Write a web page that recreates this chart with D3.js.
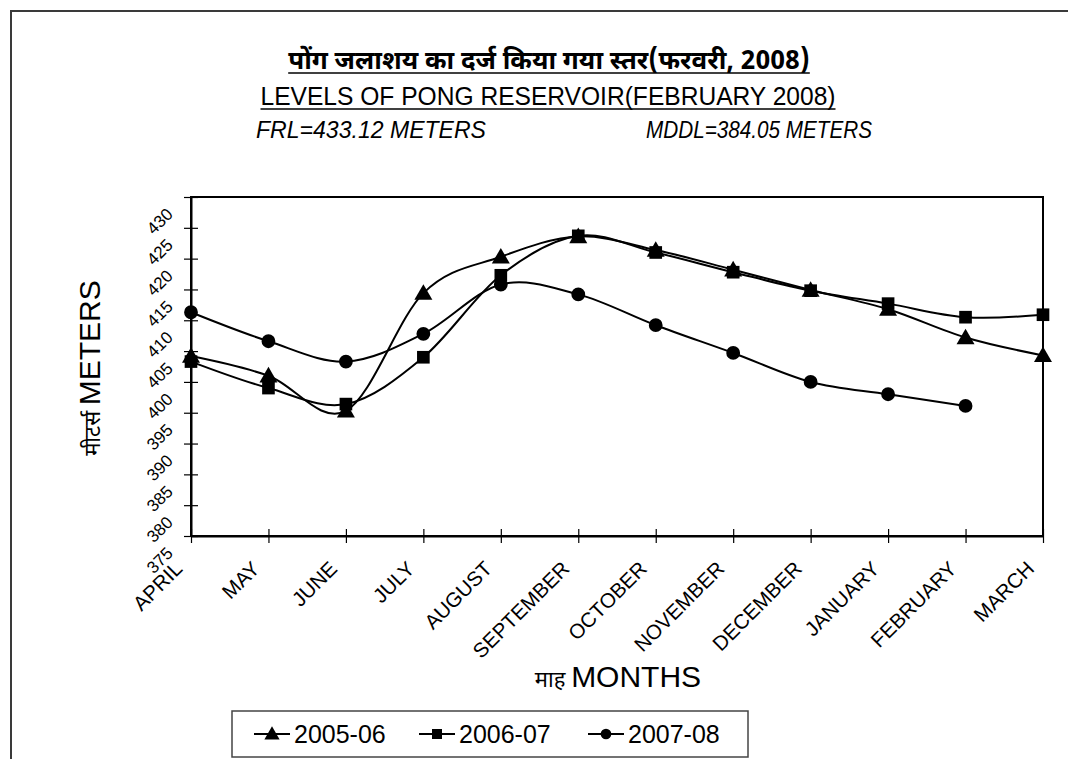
<!DOCTYPE html>
<html>
<head>
<meta charset="utf-8">
<script src="https://cdn.jsdelivr.net/npm/d3@7"></script>
<style>
  html, body { margin: 0; padding: 0; background: #fff; }
  svg { display: block; }
  text { font-family: "Liberation Sans", Arial, sans-serif; fill: #000; }
</style>
</head>
<body>
<svg id="chart" width="1068" height="759"></svg>
<script>
// Reservoir levels (metres) by month, April to March
const months = ["APRIL", "MAY", "JUNE", "JULY", "AUGUST", "SEPTEMBER", "OCTOBER",
                "NOVEMBER", "DECEMBER", "JANUARY", "FEBRUARY", "MARCH"];
const level2005_06 = [404.2, 401.0, 395.3, 414.4, 420.3, 423.6, 421.4, 418.2, 414.9, 411.8, 407.2, 404.3];
const level2006_07 = [403.3, 399.0, 396.4, 404.0, 417.3, 423.7, 421.0, 417.8, 414.8, 412.7, 410.5, 410.9];
const level2007_08 = [411.3, 406.6, 403.3, 407.8, 415.8, 414.2, 409.2, 404.7, 400.0, 398.0, 396.1, null];
const seriesNames = ["2005-06", "2006-07", "2007-08"];
const seriesMarkers = ["triangle", "square", "circle"];
const yTicks = [375, 380, 385, 390, 395, 400, 405, 410, 415, 420, 425, 430];

const titleHindi = "पोंग जलाशय का दर्ज किया गया स्तर(फरवरी, 2008)";
const titleEnglish = "LEVELS OF PONG RESERVOIR(FEBRUARY 2008)";
const frlText = "FRL=433.12 METERS";
const mddlText = "MDDL=384.05 METERS";

const svg = d3.select("#chart");
const plot = { left: 191, right: 1043, top: 197, bottom: 536 };

const x = d3.scalePoint().domain(months).range([plot.left, plot.right]);
const y = d3.scaleLinear().domain([375, 430]).range([plot.bottom, plot.top]);

const hindiFont = '"Noto Sans Devanagari", "Lohit Devanagari", "Noto Sans", sans-serif';
const narrowFont = '"Liberation Sans Narrow", "Arial Narrow", "Liberation Sans", sans-serif';

// Outer frame (left and top edges)
svg.append("path")
  .attr("d", "M11,759 L11,11 L1068,11")
  .attr("fill", "none").attr("stroke", "#3a3a3a").attr("stroke-width", 2);

// Titles
const t1 = svg.append("text")
  .attr("x", 549).attr("y", 69)
  .attr("text-anchor", "middle")
  .style("font-family", hindiFont).style("font-weight", "bold").style("font-size", "26px")
  .text(titleHindi);
const t2 = svg.append("text")
  .attr("x", 548).attr("y", 105)
  .attr("text-anchor", "middle")
  .style("font-family", narrowFont).style("font-size", "25px")
  .attr("textLength", 575).attr("lengthAdjust", "spacingAndGlyphs")
  .text(titleEnglish);
svg.append("text")
  .attr("x", 256).attr("y", 138)
  .style("font-family", narrowFont).style("font-size", "23px").style("font-style", "italic")
  .attr("textLength", 230).attr("lengthAdjust", "spacingAndGlyphs")
  .text(frlText);
svg.append("text")
  .attr("x", 872).attr("y", 138)
  .attr("text-anchor", "end")
  .style("font-family", narrowFont).style("font-size", "23px").style("font-style", "italic")
  .attr("textLength", 226).attr("lengthAdjust", "spacingAndGlyphs")
  .text(mddlText);

// Underlines for the two title lines
[[t1, 73], [t2, 109]].forEach(([t, uy]) => {
  const bb = t.node().getBBox();
  svg.append("line")
    .attr("x1", bb.x).attr("x2", bb.x + bb.width)
    .attr("y1", uy).attr("y2", uy)
    .attr("stroke", "#000").attr("stroke-width", 1.5);
});

// Plot frame
svg.append("rect")
  .attr("x", plot.left).attr("y", plot.top)
  .attr("width", plot.right - plot.left).attr("height", plot.bottom - plot.top)
  .attr("fill", "none").attr("stroke", "#000").attr("stroke-width", 2);

// Y axis
const yAxis = svg.append("g")
  .attr("transform", `translate(${plot.left},0)`)
  .call(d3.axisLeft(y).tickValues(yTicks).tickSize(6).tickSizeOuter(0));
yAxis.select(".domain").attr("stroke", "#000").attr("stroke-width", 2);
yAxis.selectAll(".tick line").attr("x1", -7).attr("x2", 7).attr("stroke", "#000").attr("stroke-width", 1.2);
yAxis.selectAll(".tick text")
  .attr("x", null).attr("dy", null)
  .attr("text-anchor", "middle")
  .attr("dominant-baseline", "central")
  .attr("transform", "translate(-31,24) rotate(-45)")
  .style("font-size", "17px").style("font-family", '"Liberation Sans", Arial, sans-serif');

// X axis
const xAxis = svg.append("g")
  .attr("transform", `translate(0,${plot.bottom})`)
  .call(d3.axisBottom(x).tickSize(6).tickSizeOuter(0));
xAxis.select(".domain").attr("stroke", "#000").attr("stroke-width", 2);
xAxis.selectAll(".tick line").attr("y1", -7).attr("y2", 7).attr("stroke", "#000").attr("stroke-width", 1.2);
xAxis.selectAll(".tick text")
  .attr("y", null).attr("dy", null)
  .attr("text-anchor", "end")
  .attr("transform", "translate(-8,34) rotate(-45)")
  .style("font-size", "20.5px").style("font-family", '"Liberation Sans", Arial, sans-serif');

// Axis titles
const yTitle = svg.append("text")
  .attr("transform", "translate(100,368) rotate(-90)")
  .attr("text-anchor", "middle");
yTitle.append("tspan").style("font-family", hindiFont).style("font-size", "22px").text("मीटर्स ");
yTitle.append("tspan").style("font-size", "30px").text("METERS");

const xTitle = svg.append("text")
  .attr("x", 618).attr("y", 687)
  .attr("text-anchor", "middle");
xTitle.append("tspan").style("font-family", hindiFont).style("font-size", "22px").text("माह ");
xTitle.append("tspan").style("font-size", "30px").text("MONTHS");

// Series
const seriesData = [level2005_06, level2006_07, level2007_08];
const line = d3.line()
  .defined(d => d != null)
  .x((d, i) => x(months[i]))
  .y(d => y(d))
  .curve(d3.curveCatmullRom.alpha(0));

function markerPath(kind, size) {
  const sym = kind === "triangle" ? d3.symbolTriangle : kind === "square" ? d3.symbolSquare : d3.symbolCircle;
  return d3.symbol().type(sym).size(size)();
}
const markerSize = { triangle: 140, square: 160, circle: 150 };

seriesData.forEach((vals, s) => {
  svg.append("path")
    .attr("d", line(vals))
    .attr("fill", "none").attr("stroke", "#000").attr("stroke-width", 2);
});
seriesData.forEach((vals, s) => {
  const kind = seriesMarkers[s];
  svg.append("g").selectAll("path")
    .data(vals.map((v, i) => ({ v, i })).filter(d => d.v != null))
    .join("path")
    .attr("transform", d => `translate(${x(months[d.i])},${y(d.v) + (kind === "triangle" ? 1.5 : 0)})`)
    .attr("d", markerPath(kind, markerSize[kind]))
    .attr("fill", "#000");
});

// Legend
const legend = svg.append("g");
legend.append("rect")
  .attr("x", 232).attr("y", 711).attr("width", 516).attr("height", 46)
  .attr("fill", "#fff").attr("stroke", "#444").attr("stroke-width", 1.5);
const legendX = [254, 419, 588];
seriesNames.forEach((name, s) => {
  const g = legend.append("g").attr("transform", `translate(${legendX[s]},734)`);
  g.append("line").attr("x1", 0).attr("x2", 36).attr("y1", 0).attr("y2", 0)
    .attr("stroke", "#000").attr("stroke-width", 2);
  const kind = seriesMarkers[s];
  g.append("path")
    .attr("transform", `translate(18,${kind === "triangle" ? 1 : 0})`)
    .attr("d", markerPath(kind, kind === "circle" ? 90 : 100))
    .attr("fill", "#000");
  g.append("text").attr("x", 40).attr("y", 9)
    .style("font-size", "25px").text(name);
});
</script>
</body>
</html>
